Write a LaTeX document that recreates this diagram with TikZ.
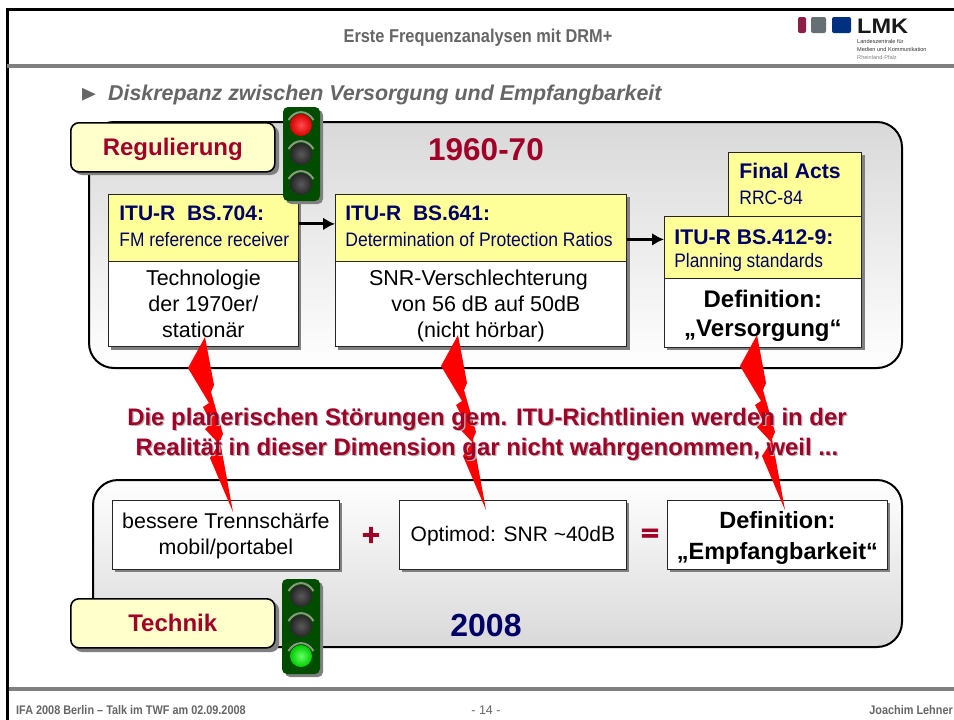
\documentclass[tikz,border=0pt]{standalone}
\usepackage{fontspec}
\usepackage{graphicx}
\setmainfont{Liberation Sans}
\newfontfamily\dejavu{DejaVu Sans}[BoldFeatures={FakeBold=2.5}]
\usetikzlibrary{arrows.meta,shadings}
\definecolor{crim}{HTML}{A00028}
\definecolor{navy}{HTML}{000066}
\definecolor{hdgrey}{HTML}{666666}
\definecolor{shgrey}{HTML}{808080}
\definecolor{ylw}{HTML}{FFFF99}
\definecolor{cream}{HTML}{FFFFCC}
\definecolor{arcgrey}{HTML}{8A9A80}
\newcommand\fs[1]{\fontsize{#1}{#1}\selectfont\nsp}
\newcommand\fsl[2]{\fontsize{#1}{#2}\selectfont}
\newcommand\cnd[2]{\scalebox{#1}[1]{#2}}
\newcommand\nsp{\spaceskip=0pt\xspaceskip=0pt\relax}
\tikzset{
  x=1pt,y=-1pt,
  panel/.style={draw=black,line width=2pt,rounded corners=25pt},
  label/.style={draw=black,line width=1.6pt,fill=cream,rounded corners=8pt,text=crim,font=\bfseries\fs{24},minimum width=204pt,minimum height=49pt,inner sep=0pt,text height=22pt,text depth=5pt},
  ybox/.style={draw=black!85,line width=0.8pt,fill=ylw,text=navy,align=left,inner sep=0pt,anchor=north west},
  wbox/.style={draw=black!85,line width=0.8pt,fill=white,text=black,align=center,inner sep=0pt,anchor=north west},
  shad/.style={fill=shgrey,draw=none},
  flash/.style={fill=red,draw=none},
  arr/.style={line width=3pt,-{Latex[length=12pt,width=13pt]}},
}
% lightning bolt, tip at #1,#2
\newcommand\bolt[2]{\fill[flash,shift={(#1,#2)}] (0,0) -- (9,48) -- (6,55) -- (18,97) -- (15,104) -- (28,175) -- (5,121) -- (14,107) -- (0,92) -- (6,86) -- (-2,70) -- (4,66) -- (-17,31) -- cycle;}
% signal lamp
\newcommand\lamp[4]{%
  \shade[inner color=#3,outer color=#4] (#1,#2) circle (11);
  \draw[line width=2pt,color=arcgrey] (#1-12.5,#2-5) .. controls (#1-6,#2-15.5) and (#1+6,#2-15.5) .. (#1+12.5,#2-5);
}
\begin{document}
\begin{tikzpicture}
\useasboundingbox (0,0) rectangle (954,720);
\fill[white] (0,0) rectangle (954,720);
% frame
\draw[black,line width=3pt] (954,9) -- (7.5,9) -- (7.5,720);
\draw[shgrey,line width=4pt] (7,66) -- (954,66);
\draw[shgrey,line width=4pt] (9,689) -- (954,689);
% header
\node[text=hdgrey,font=\bfseries\fs{18.6},inner sep=0pt] (title) at (478,38) {\cnd{0.88}{Erste Frequenzanalysen mit DRM+}};
\node[text=hdgrey,font=\fs{20},anchor=west,inner sep=0pt] (bullet) at (82,95) {\scalebox{0.9}[1.3]{\dejavu ►}};
\node[text=hdgrey,font=\bfseries\itshape\fs{21.4},anchor=west,inner sep=0pt] (sub) at (108,95) {Diskrepanz zwischen Versorgung und Empfangbarkeit};
% logo
\fill[rounded corners=2pt,fill={rgb,255:red,140;green,31;blue,69}] (798,17) rectangle (806,33);
\fill[rounded corners=2pt,fill={rgb,255:red,102;green,112;blue,116}] (811,17) rectangle (826,33);
\fill[rounded corners=2pt,fill={rgb,255:red,0;green,48;blue,127}] (832,17) rectangle (851,33);
\node[anchor=west,inner sep=0pt,font=\bfseries\fs{21},text=black!90] (lmk) at (857,26) {\scalebox{1.12}[1]{LMK}};
\node[anchor=west,inner sep=0pt,font=\fs{5.6},text=black!80] (lz1) at (857,41.5) {Landeszentrale für};
\node[anchor=west,inner sep=0pt,font=\fs{5.6},text=black!80] (lz2) at (857,49.5) {Medien und Kommunikation};
\node[anchor=west,inner sep=0pt,font=\fs{5.6},text=black!50] (lz3) at (857,57.5) {Rheinland-Pfalz};
% panels
\shade[panel,top color=black!15,bottom color=white] (89,122) rectangle (902,368);
\shade[panel,top color=white,bottom color=black!15] (93,480) rectangle (902,647);
% upper boxes shadows
\fill[shad] (111,197) rectangle (301,350);
\fill[shad] (338,197) rectangle (630,350);
\fill[shad] (667,219) rectangle (865,350);
\fill[shad] (731,155) rectangle (865,219);
% upper boxes
\node[ybox,minimum width=190pt,minimum height=67pt,text width=190pt] (y1) at (108,194) {\hspace*{11pt}\begin{tabular}{@{}l@{}}\bfseries\fs{21}ITU-R\ \ BS.704:\\[9pt]\fs{19.5}\cnd{0.89}{FM reference receiver}\end{tabular}};
\node[wbox,minimum width=190pt,minimum height=85pt,font=\fsl{21.5}{26}] (w1) at (108,261) {\nsp Technologie\\der 1970er/\\stationär};
\node[ybox,minimum width=291pt,minimum height=67pt,text width=291pt] (y2) at (335,194) {\hspace*{10pt}\begin{tabular}{@{}l@{}}\bfseries\fs{21}ITU-R\ \ BS.641:\\[9pt]\fs{19.5}\cnd{0.9}{Determination of Protection Ratios}\end{tabular}};
\node[wbox,minimum width=291pt,minimum height=85pt,font=\fsl{21.5}{26}] (w2) at (335,261) {\nsp\hspace*{-5pt}SNR-Verschlechterung\\\hspace*{10pt}von 56 dB auf 50dB\\\smash{(nicht hörbar)}};
\node[ybox,minimum width=133pt,minimum height=64pt,text width=133pt] (fa) at (728,152) {\hspace*{11pt}\begin{tabular}{@{}l@{}}\bfseries\fs{21.2}\rule{0pt}{18pt}Final Acts\\[8pt]\fs{19.5}\cnd{0.9}{RRC-84}\end{tabular}};
\node[ybox,minimum width=197pt,minimum height=62pt,text width=197pt] (y3) at (664,216) {\hspace*{10pt}\begin{tabular}{@{}l@{}}\bfseries\fs{21.2}\rule{0pt}{21.4pt}ITU-R BS.412-9:\\[6pt]\fs{19.5}\cnd{0.89}{Planning standards}\end{tabular}};
\node[wbox,minimum width=197pt,minimum height=69pt,font=\bfseries\fsl{24}{29.5}] (w3) at (664,278) {\nsp\rule{0pt}{23.5pt}Definition:\\„Versorgung“};
\draw[arr] ([yshift=4pt]y1.east) -- ([yshift=4pt]y2.west);
\draw[arr] ([yshift=8pt]y2.east |- y3.west) -- ([yshift=8pt]y3.west);
% lower boxes
\fill[shad] (115,503) rectangle (342,572);
\fill[shad] (402,503) rectangle (629,572);
\fill[shad] (670,503) rectangle (890,572);
\node[wbox,minimum width=227pt,minimum height=69pt,font=\fsl{21.4}{26}] (b1) at (112,500) {\nsp\rule{0pt}{18pt}bessere Trennschärfe\\mobil/portabel};
\node[wbox,minimum width=227pt,minimum height=69pt,font=\fs{21},text height=15.5pt,text depth=2pt] (b2) at (399,500) {\nsp Optimod: SNR \textasciitilde 40dB};
\node[wbox,minimum width=220pt,minimum height=69pt,font=\bfseries\fsl{23.5}{31}] (b3) at (667,500) {\nsp\rule{0pt}{23.5pt}Definition:\\„Empfangbarkeit“};
\node[text=crim,font=\dejavu\bfseries\fs{25},inner sep=0pt] (plus) at (371,535) {+};
\node[text=crim,font=\dejavu\bfseries\fs{25},inner sep=0pt] (eq) at (650,535) {=};
% years
\node[text=crim,font=\bfseries\fs{31.5}] (y60) at (486,150) {1960-70};
\node[text=navy,font=\bfseries\fs{32}] (y08) at (486,625) {2008};
% labels
\fill[shad,rounded corners=8pt] (74,126) rectangle (279,175);
\node[label,anchor=north west] (reg) at (70,122) {Regulierung};
\fill[shad,rounded corners=8pt] (74,602) rectangle (279,652);
\node[label,anchor=north west] (tech) at (70,598) {Technik};
% traffic lights
\fill[shad,rounded corners=5pt] (286,110) rectangle (323,204);
\fill[rounded corners=5pt,fill={rgb,255:red,0;green,77;blue,0}] (283,107) rectangle (320,201);
\lamp{301}{125}{red!70!white}{red!85!black}
\lamp{301}{154}{black!65}{black!85}
\lamp{301}{184}{black!65}{black!85}
\fill[shad,rounded corners=5pt] (285,582) rectangle (323,677);
\fill[rounded corners=5pt,fill={rgb,255:red,0;green,77;blue,0}] (282,579) rectangle (320,674);
\lamp{301}{596}{black!65}{black!85}
\lamp{301}{626}{black!65}{black!85}
\lamp{301}{656}{green!60!white}{green!80!black}
% bolts
\bolt{205}{337}
\bolt{458}{335}
\bolt{757}{335}
% middle text
\node[text=black!30,align=center,font=\bfseries\fsl{23.9}{30}] (mids) at (488.2,435.2) {\nsp Die planerischen Störungen gem. ITU-Richtlinien werden in der\\Realität in dieser Dimension gar nicht wahrgenommen, weil ...};
\node[text=crim,align=center,font=\bfseries\fsl{23.9}{30}] (mid) at (487,434) {\nsp Die planerischen Störungen gem. ITU-Richtlinien werden in der\\Realität in dieser Dimension gar nicht wahrgenommen, weil ...};
% footer
\node[text=hdgrey,font=\bfseries\fs{12.5},anchor=west,inner sep=0pt] (f1) at (16,710) {\cnd{0.87}{IFA 2008 Berlin – Talk im TWF am 02.09.2008}};
\node[text=hdgrey,font=\fs{12.5},inner sep=0pt] (f2) at (486,710) {- 14 -};
\node[text=hdgrey,font=\bfseries\fs{12.5},anchor=east,inner sep=0pt] (f3) at (953,710) {\cnd{0.87}{Joachim Lehner}};
\end{tikzpicture}
\end{document}
